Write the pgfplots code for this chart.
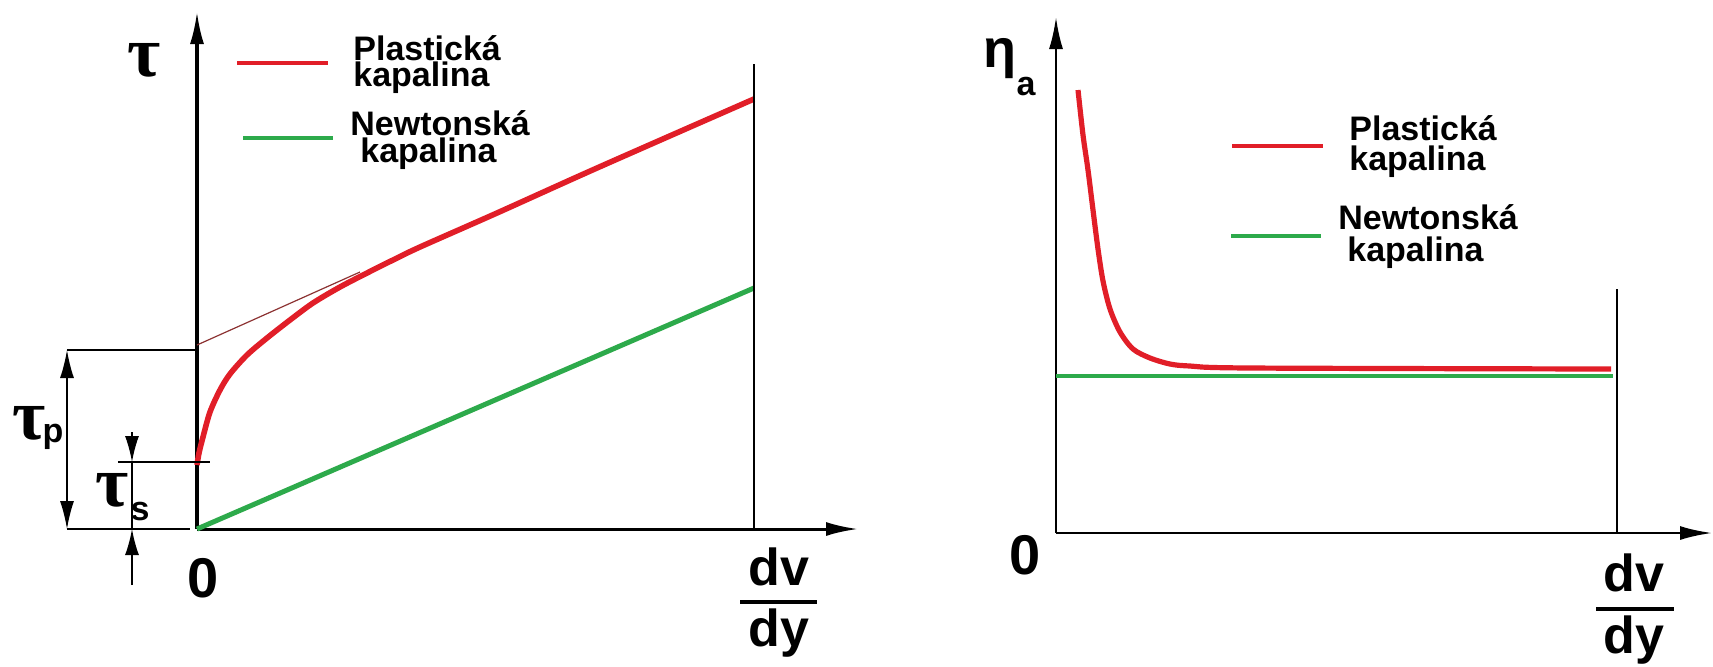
\documentclass[border=0pt]{standalone}
\usepackage{fontspec}
\setmainfont{Liberation Sans}
\newfontfamily\grk{Liberation Serif}
\usepackage{graphicx}
\usepackage{pgfplots}
\pgfplotsset{compat=1.18}
\usetikzlibrary{arrows.meta}
\definecolor{cred}{RGB}{225,30,40}
\definecolor{cgreen}{RGB}{45,170,75}
\definecolor{ctan}{RGB}{140,50,50}
\newcommand\lgf{\fontsize{17pt}{17pt}\selectfont\bfseries}
\newcommand\bigf{\fontsize{26pt}{26pt}\selectfont\bfseries}
\newcommand\zerof{\fontsize{28pt}{28pt}\selectfont\bfseries}
\newcommand\subf{\fontsize{17pt}{17pt}\selectfont\bfseries}
\newcommand\tauf{\fontsize{36pt}{36pt}\selectfont\grk\bfseries}
\newcommand\etaf{\fontsize{27pt}{27pt}\selectfont\bfseries}
% two-line legend text: #1 first line, #2 second line, #3 indent of 2nd, #4 baseline skip
\newcommand\twol[4]{\vtop{\baselineskip=#4\lineskiplimit=-\maxdimen\lineskip=0pt\hbox{#1}\hbox{\hspace*{#3}#2}}}
\pgfplotsset{
  myax/.style={
    x=0.5pt, y=0.5pt, xmin=0, ymin=0, enlargelimits=false,
    axis lines=left, ticks=none, clip=false, anchor=south west,
    axis line style={line width=1.5pt, -{Latex[length=16pt,width=7pt]}},
  }
}
\begin{document}
\begin{tikzpicture}
\useasboundingbox (0,0) rectangle (856.5pt,-333pt);
% ---------------- left panel ----------------
\begin{axis}[myax, at={(98.5pt,-264.5pt)}, xmax=661, ymax=517]
  \addplot[ctan, line width=0.6pt] coordinates {(0,184) (163,257)};
  \addplot[cred, line width=2.8pt, smooth] coordinates {
    (0,64) (2,76) (6,92) (13,117) (23,139) (33,155) (50,174) (70,191)
    (93,209) (116,226) (143,242) (170,256) (196,269) (223,282)
    (300,316) (400,361) (557,430)};
  \addplot[cgreen, line width=2.5pt] coordinates {(0,0) (557,241)};
  \addplot[black, line width=0.75pt] coordinates {(557,0) (557,465)};
  % legend
  \addplot[cred, line width=2pt] coordinates {(40,466) (131,466)};
  \addplot[cgreen, line width=2pt] coordinates {(46,391) (136,391)};
  \node[anchor=base west, inner sep=0] at (axis cs:156,469) {\lgf\twol{Plastická}{kapalina}{0pt}{13pt}};
  \node[anchor=base west, inner sep=0] at (axis cs:153,394) {\lgf\twol{Newtonská}{kapalina}{5pt}{13.5pt}};
  % tau_p / tau_s dimensions
  \draw[line width=0.75pt] (axis cs:-130,179) -- (axis cs:0,179);
  \draw[line width=0.75pt] (axis cs:-130,0) -- (axis cs:-7,0);
  \draw[line width=0.75pt, {Latex[length=14pt,width=7pt]}-{Latex[length=14pt,width=7pt]}] (axis cs:-130,0) -- (axis cs:-130,179);
  \draw[line width=0.75pt] (axis cs:-79,67) -- (axis cs:13,67);
  \draw[line width=0.75pt] (axis cs:-65,67) -- (axis cs:-65,0);
  \draw[line width=0.75pt, -{Latex[length=13pt,width=7pt]}] (axis cs:-65,97) -- (axis cs:-65,67);
  \draw[line width=0.75pt, -{Latex[length=13pt,width=7pt]}] (axis cs:-65,-56) -- (axis cs:-65,0);
  % labels
  \node at (axis cs:-53,469) {\tauf τ};
  \node at (axis cs:-168,106) {\tauf τ};
  \node at (axis cs:-144,92) {\subf p};
  \node at (axis cs:-85,39) {\tauf τ};
  \node at (axis cs:-57,18) {\subf s};
  \node at (axis cs:6,-49) {\zerof 0};
  \node[anchor=base] at (axis cs:582,-56) {\bigf dv};
  \draw[line width=2pt] (axis cs:543,-73) -- (axis cs:620,-73);
  \node[anchor=base] at (axis cs:582,-117) {\bigf dy};
\end{axis}
% ---------------- right panel ----------------
\begin{axis}[myax, at={(528pt,-266.5pt)}, xmax=656, ymax=516,
  axis line style={line width=1.3pt}]
  \addplot[cred, line width=2.6pt, smooth] coordinates {
    (22,443) (27,398) (32,363) (37,323) (42,284) (47,252) (54,224)
    (64,201) (77,184) (94,175) (114,169) (134,167) (194,165) (555,164)};
  \addplot[cgreen, line width=2.2pt] coordinates {(0,157) (557,157)};
  \addplot[black, line width=0.75pt] coordinates {(561,0) (561,244)};
  % legend
  \addplot[cred, line width=2pt] coordinates {(176,387) (267,387)};
  \addplot[cgreen, line width=2pt] coordinates {(175,297) (265,297)};
  \node[anchor=base west, inner sep=0] at (axis cs:293,393) {\lgf\twol{Plastická}{kapalina}{0pt}{15pt}};
  \node[anchor=base west, inner sep=0] at (axis cs:282,304) {\lgf\twol{Newtonská}{kapalina}{4.5pt}{16pt}};
  % labels
  \node at (axis cs:-56,474) {\etaf η};
  \node at (axis cs:-30,446) {\subf a};
  \node at (axis cs:-31,-22) {\zerof 0};
  \node[anchor=base] at (axis cs:578,-58) {\bigf dv};
  \draw[line width=2pt] (axis cs:540,-76) -- (axis cs:618,-76);
  \node[anchor=base] at (axis cs:578,-120) {\bigf dy};
\end{axis}
\end{tikzpicture}
\end{document}
